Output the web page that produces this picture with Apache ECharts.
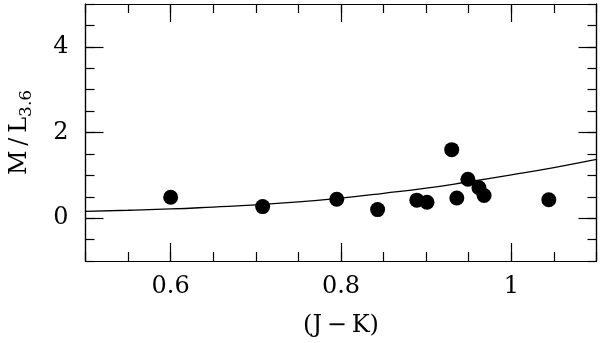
<!DOCTYPE html>
<html>
<head>
<meta charset="utf-8">
<script src="https://cdn.jsdelivr.net/npm/echarts@6/dist/echarts.min.js"></script>
<style>html,body{margin:0;padding:0;background:#fff;}#c{width:600px;height:343px;}</style>
</head>
<body>
<div id="c"></div>
<script>
// Data points
const jk = [0.600, 0.708, 0.795, 0.843, 0.889, 0.901, 0.930, 0.936, 0.949, 0.962, 0.968, 1.044];
const ml = [0.49, 0.27, 0.44, 0.20, 0.42, 0.37, 1.60, 0.47, 0.91, 0.71, 0.53, 0.43];
// Curve
const curveX = [0.5, 0.55, 0.6, 0.65, 0.7, 0.75, 0.8, 0.85, 0.9, 0.95, 1.0, 1.05, 1.1];
const curveY = [0.16, 0.185, 0.215, 0.26, 0.31, 0.38, 0.47, 0.58, 0.70, 0.85, 1.01, 1.18, 1.37];
// Tick labels
const xMajor = [0.6, 0.8, 1.0];
const xMajorLabels = ['0.6', '0.8', '1'];
const yMajor = [0, 2, 4];
const yMajorLabels = ['0', '2', '4'];

const FONT = 'DejaVu Serif';
const lineStyle = {color: '#000', width: 1.2};
const minorX = {min: 0.5, max: 1.1, interval: 0.05};
const minorY = {min: -1, max: 5, interval: 0.5};

function xAx(pos, major, show) {
  const a = Object.assign({type: 'value', position: pos, splitLine: {show: false},
    axisLine: {show: true, onZero: false, lineStyle: lineStyle}}, minorX);
  if (major) {
    a.axisTick = {show: true, inside: true, length: 18, lineStyle: lineStyle, customValues: xMajor};
    a.axisLabel = {show: show, customValues: xMajor, margin: 14,
      fontFamily: FONT, fontSize: 24, color: '#000',
      formatter: v => xMajorLabels[xMajor.findIndex(m => Math.abs(m - v) < 1e-9)] || ''};
  } else {
    a.axisTick = {show: true, inside: true, length: 9, lineStyle: lineStyle};
    a.axisLabel = {show: false};
  }
  return a;
}
function yAx(pos, major, show) {
  const a = Object.assign({type: 'value', position: pos, splitLine: {show: false},
    axisLine: {show: true, onZero: false, lineStyle: lineStyle}}, minorY);
  if (major) {
    a.axisTick = {show: true, inside: true, length: 18, lineStyle: lineStyle, customValues: yMajor};
    a.axisLabel = {show: show, customValues: yMajor, margin: 17,
      fontFamily: FONT, fontSize: 24, color: '#000',
      formatter: v => yMajorLabels[yMajor.findIndex(m => Math.abs(m - v) < 1e-9)] || ''};
  } else {
    a.axisTick = {show: true, inside: true, length: 9, lineStyle: lineStyle};
    a.axisLabel = {show: false};
  }
  return a;
}

const xb = xAx('bottom', true, true);
xb.name = '(J\u2009\u2212\u2009K)';
xb.nameLocation = 'middle';
xb.nameGap = 53;
xb.nameTextStyle = {fontFamily: FONT, fontSize: 24, color: '#000'};

const yl = yAx('left', true, true);
yl.name = '{a|M\u2009/\u2009L}{b|3.6}';
yl.nameLocation = 'middle';
yl.nameGap = 50;
yl.nameTextStyle = {
  fontFamily: FONT, fontSize: 24, color: '#000',
  rich: {
    a: {fontFamily: FONT, fontSize: 24, color: '#000'},
    b: {fontFamily: FONT, fontSize: 17, color: '#000', padding: [14, 0, 0, 0]}
  }
};

const chart = echarts.init(document.getElementById('c'), null, {renderer: 'canvas'});
chart.setOption({
  animation: false,
  backgroundColor: '#fff',
  grid: {left: 83, right: 3.5, top: 4, bottom: 81, containLabel: false},
  xAxis: [xAx('bottom', false), xb, xAx('top', false), xAx('top', true, false)],
  yAxis: [yAx('left', false), yl, yAx('right', false), yAx('right', true, false)],
  series: [
    {
      type: 'line', xAxisIndex: 0, yAxisIndex: 0, smooth: true, showSymbol: false,
      lineStyle: {color: '#000', width: 1.3},
      data: curveX.map((x, i) => [x, curveY[i]])
    },
    {
      type: 'scatter', xAxisIndex: 0, yAxisIndex: 0, symbol: 'circle', symbolSize: 15,
      itemStyle: {color: '#000', opacity: 1},
      data: jk.map((x, i) => [x, ml[i]])
    }
  ]
});
</script>
</body>
</html>
